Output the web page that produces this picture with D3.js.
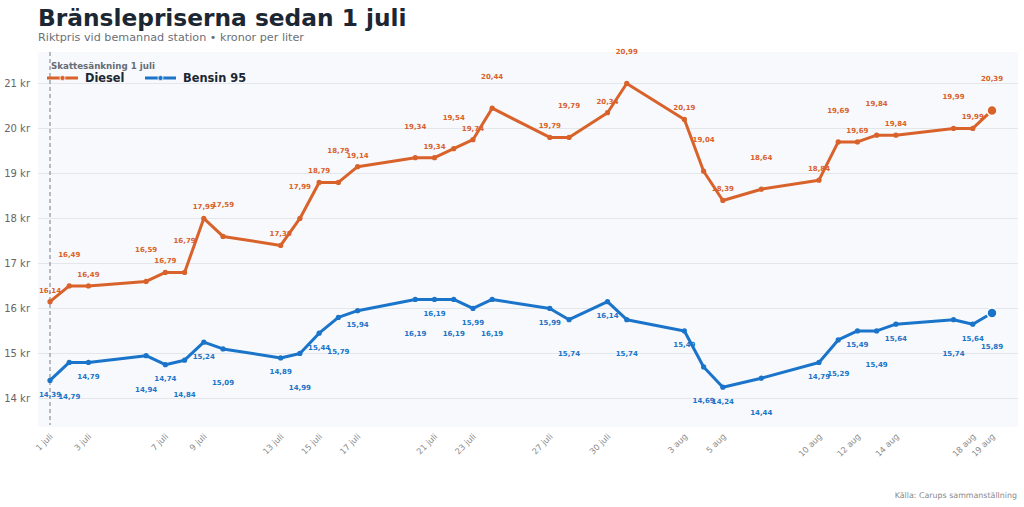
<!DOCTYPE html>
<html>
<head>
<meta charset="utf-8">
<script src="https://cdn.jsdelivr.net/npm/d3@7"></script>
<style>
  body { margin: 0; background: #fff; }
  svg { display: block; font-family: "DejaVu Sans", sans-serif; }
</style>
</head>
<body>
<svg id="chart" width="1024" height="507"></svg>
<script>
// dates with a price change (2022)
const dates = [
  "2022-07-01", "2022-07-02", "2022-07-03", "2022-07-06", "2022-07-07", "2022-07-08",
  "2022-07-09", "2022-07-10", "2022-07-13", "2022-07-14", "2022-07-15", "2022-07-16",
  "2022-07-17", "2022-07-20", "2022-07-21", "2022-07-22", "2022-07-23", "2022-07-24",
  "2022-07-27", "2022-07-28", "2022-07-30", "2022-07-31", "2022-08-03", "2022-08-04",
  "2022-08-05", "2022-08-07", "2022-08-10", "2022-08-11", "2022-08-12", "2022-08-13",
  "2022-08-14", "2022-08-17", "2022-08-18", "2022-08-19"
];

const diesel = [
  16.14, 16.49, 16.49, 16.59, 16.79, 16.79, 17.99, 17.59, 17.39, 17.99, 18.79, 18.79,
  19.14, 19.34, 19.34, 19.54, 19.74, 20.44, 19.79, 19.79, 20.34, 20.99, 20.19, 19.04,
  18.39, 18.64, 18.84, 19.69, 19.69, 19.84, 19.84, 19.99, 19.99, 20.39
];

const bensin = [
  14.39, 14.79, 14.79, 14.94, 14.74, 14.84, 15.24, 15.09, 14.89, 14.99, 15.44, 15.79,
  15.94, 16.19, 16.19, 16.19, 15.99, 16.19, 15.99, 15.74, 16.14, 15.74, 15.49, 14.69,
  14.24, 14.44, 14.79, 15.29, 15.49, 15.49, 15.64, 15.74, 15.64, 15.89
];

const yTicks = [14, 15, 16, 17, 18, 19, 20, 21];

const series = [
  { name: "Diesel", values: diesel, color: "#d9622b", above: true },
  { name: "Bensin 95", values: bensin, color: "#1a74c9", above: false }
];

const parse = d3.timeParse("%Y-%m-%d");
const days = dates.map(parse);
const monthName = ["jan", "feb", "mars", "april", "maj", "juni", "juli", "aug", "sep", "okt", "nov", "dec"];
const fmtDate = d => `${d.getDate()} ${monthName[d.getMonth()]}`;
const fmtNum = v => v.toFixed(2).replace(".", ",");

const svg = d3.select("#chart");
const plot = { left: 38, right: 1018, top: 52, bottom: 427 };

const x = d3.scaleTime()
  .domain(d3.extent(days))
  .range([50, 992]);

const y = d3.scaleLinear()
  .domain([14, 21])
  .range([398, 83]);

// title
svg.append("text")
  .attr("x", 38).attr("y", 26)
  .attr("font-size", 23.3).attr("font-weight", "bold")
  .attr("fill", "#1c2733")
  .text("Bränslepriserna sedan 1 juli");

svg.append("text")
  .attr("x", 38).attr("y", 41)
  .attr("font-size", 11.2).attr("fill", "#6b7078")
  .text("Riktpris vid bemannad station • kronor per liter");

// plot background
svg.append("rect")
  .attr("x", plot.left).attr("y", plot.top)
  .attr("width", plot.right - plot.left).attr("height", plot.bottom - plot.top)
  .attr("fill", "#f7f9fc");

// y grid + labels
const yAxis = svg.append("g")
  .attr("transform", `translate(${plot.left},0)`)
  .call(d3.axisLeft(y).tickValues(yTicks).tickSize(-(plot.right - plot.left)).tickPadding(8)
    .tickFormat(d => `${d} kr`));
yAxis.select(".domain").remove();
yAxis.selectAll(".tick line").attr("stroke", "#e3e7ec").attr("stroke-width", 1.2);
yAxis.selectAll(".tick text")
  .attr("font-size", 10).attr("fill", "#666").attr("font-family", "DejaVu Sans, sans-serif");

// x axis: every other date + the last one
const tickDays = days.filter((d, i) => i % 2 === 0 || i === days.length - 1);
const xAxis = svg.append("g")
  .attr("transform", `translate(0,${plot.bottom})`)
  .call(d3.axisBottom(x).tickValues(tickDays).tickSize(0).tickFormat(fmtDate));
xAxis.select(".domain").remove();
xAxis.selectAll(".tick text")
  .attr("font-size", 8.3).attr("fill", "#8a8a8a").attr("font-family", "DejaVu Sans, sans-serif")
  .attr("text-anchor", "end")
  .attr("y", 0).attr("dx", 0).attr("dy", 0)
  .attr("transform", "translate(3,10) rotate(-45)");

// value labels (drawn below the lines)
series.forEach(s => {
  svg.append("g").selectAll("text")
    .data(s.values)
    .join("text")
    .attr("x", (d, i) => x(days[i]))
    .attr("y", (d, i) => {
      const far = i % 2 === 1;
      return s.above ? y(d) - (far ? 29 : 9) : y(d) + (far ? 36.5 : 16.5);
    })
    .attr("text-anchor", "middle")
    .attr("font-size", 7).attr("font-weight", "bold")
    .attr("fill", s.color)
    .text(d => fmtNum(d));
});

// tax cut marker
svg.append("line")
  .attr("x1", x(days[0])).attr("x2", x(days[0]))
  .attr("y1", plot.top).attr("y2", plot.bottom - 2)
  .attr("stroke", "#8a9099").attr("stroke-width", 1.2)
  .attr("stroke-dasharray", "4,3");
svg.append("text")
  .attr("x", x(days[0]) + 1).attr("y", 69)
  .attr("font-size", 8.7).attr("font-weight", "bold").attr("fill", "#666c74")
  .text("Skattesänkning 1 juli");

// lines + dots
const line = d3.line()
  .x((d, i) => x(days[i]))
  .y(d => y(d));

series.forEach(s => {
  svg.append("path")
    .datum(s.values)
    .attr("fill", "none")
    .attr("stroke", s.color)
    .attr("stroke-width", 3)
    .attr("stroke-linejoin", "round")
    .attr("d", line);
  svg.append("g").selectAll("circle")
    .data(s.values)
    .join("circle")
    .attr("cx", (d, i) => x(days[i]))
    .attr("cy", d => y(d))
    .attr("r", (d, i) => i === s.values.length - 1 ? 5 : 2.6)
    .attr("fill", s.color)
    .attr("stroke", "#fff")
    .attr("stroke-width", (d, i) => i === s.values.length - 1 ? 1.5 : 0);
});

// legend
const legend = svg.append("g").attr("transform", "translate(47,78)");
series.forEach((s, k) => {
  const g = legend.append("g").attr("transform", `translate(${k * 98},0)`);
  g.append("line").attr("x1", 0).attr("x2", 31).attr("y1", 0).attr("y2", 0)
    .attr("stroke", s.color).attr("stroke-width", 3);
  g.append("circle").attr("cx", 15.5).attr("cy", 0).attr("r", 2.6)
    .attr("fill", s.color).attr("stroke", "#fff").attr("stroke-width", 0.8);
  g.append("text").attr("x", 38).attr("y", 4.3)
    .attr("font-size", 11.4).attr("font-weight", "bold").attr("fill", "#1c2733")
    .text(s.name);
});

// source
svg.append("text")
  .attr("x", 1017).attr("y", 498)
  .attr("text-anchor", "end")
  .attr("font-size", 7.9).attr("fill", "#888")
  .text("Källa: Carups sammanställning");
</script>
</body>
</html>
